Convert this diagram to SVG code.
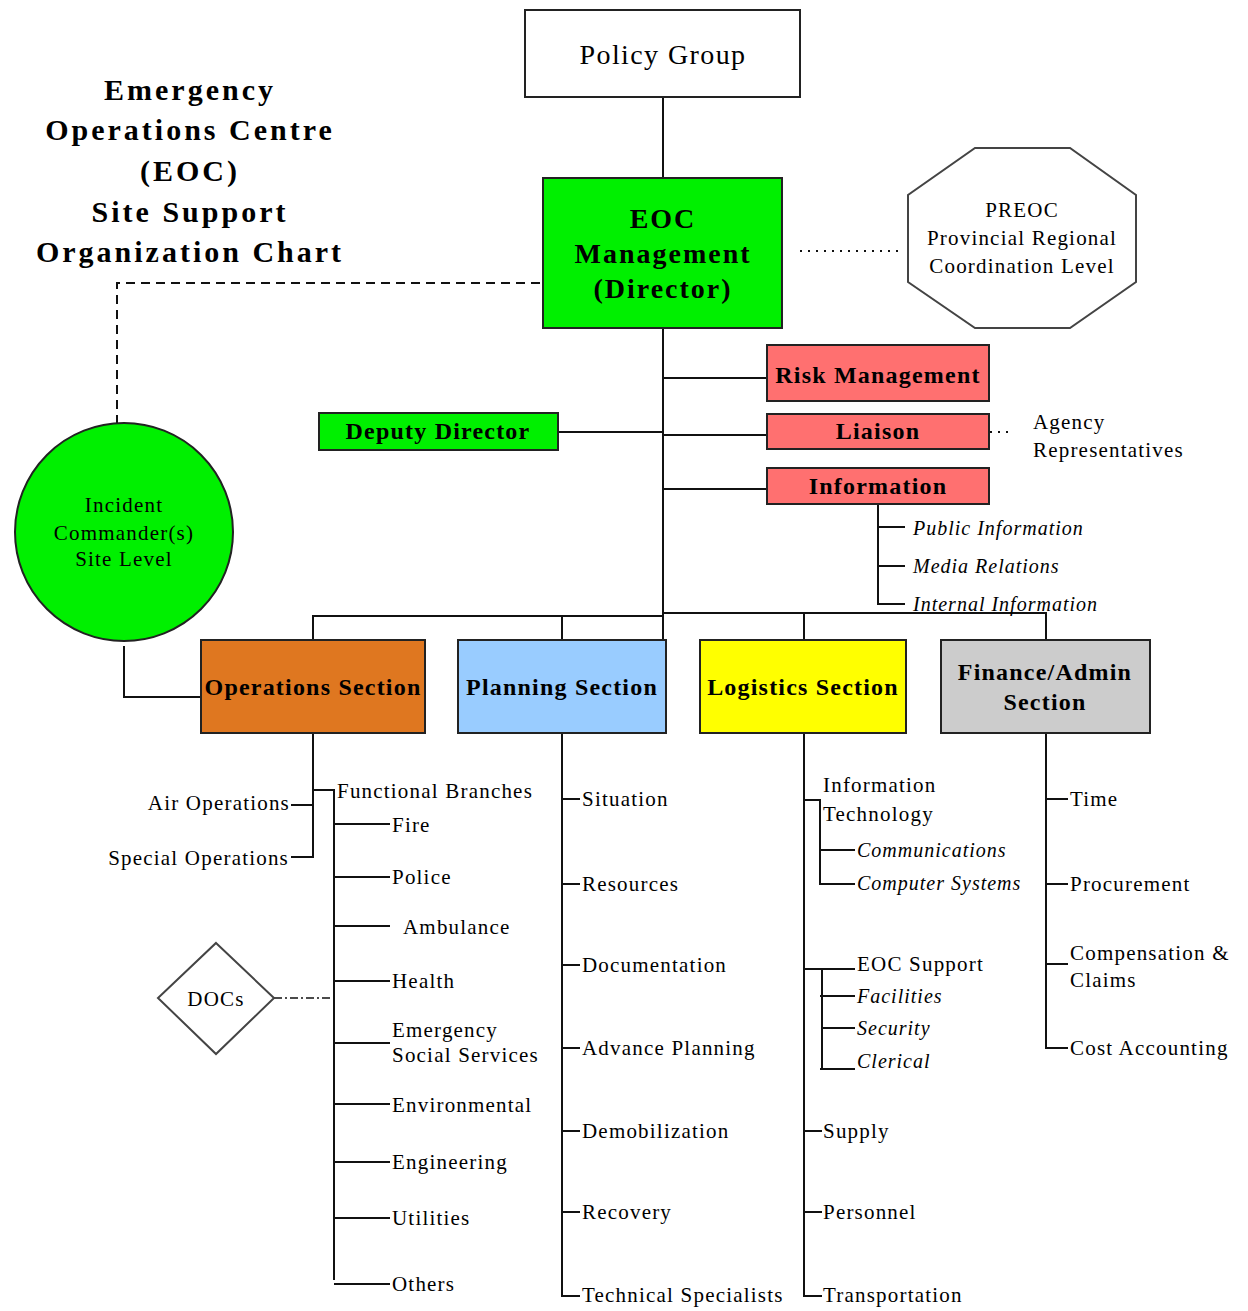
<svg xmlns="http://www.w3.org/2000/svg" width="1248" height="1311" viewBox="0 0 1248 1311">
<style>
text{font-family:"Liberation Serif","Times New Roman",serif;fill:#000}
.title{font-size:30px;font-weight:bold;letter-spacing:3px;text-anchor:middle}
.box{stroke:#222;stroke-width:2}
.hb{font-size:24px;font-weight:bold;text-anchor:middle;letter-spacing:1.2px}
.t{font-size:21px;letter-spacing:1.2px}
.tc{font-size:21px;text-anchor:middle;letter-spacing:1.2px}
.i{font-size:20px;font-style:italic;letter-spacing:1px}
.ln{stroke:#111;stroke-width:2;fill:none}
.dash{stroke:#111;stroke-width:2;fill:none;stroke-dasharray:9 6}
.dot{stroke:#111;stroke-width:2;fill:none;stroke-dasharray:2 6}
.dd{stroke:#111;stroke-width:1.5;fill:none;stroke-dasharray:8 3 2 3}
</style>
<rect width="1248" height="1311" fill="#fff"/>
<g id="title">
<text class="title" x="190" y="100">Emergency</text>
<text class="title" x="190" y="140">Operations Centre</text>
<text class="title" x="190" y="181">(EOC)</text>
<text class="title" x="190" y="222">Site Support</text>
<text class="title" x="190" y="262">Organization Chart</text>
</g>
<g id="connectors">
<line class="ln" x1="663" y1="97" x2="663" y2="178"/>
<line class="dot" x1="800" y1="251" x2="902" y2="251"/>
<path class="dash" d="M540 283 H117 V428"/>
<line class="ln" x1="663" y1="328" x2="663" y2="640"/>
<line class="ln" x1="663" y1="378" x2="767" y2="378"/>
<line class="ln" x1="663" y1="435" x2="767" y2="435"/>
<line class="ln" x1="663" y1="489" x2="767" y2="489"/>
<line class="ln" x1="558" y1="432" x2="663" y2="432"/>
<line class="dot" x1="990" y1="432" x2="1012" y2="432"/>
<path class="ln" d="M878 504 V604 H905 M878 527 H905 M878 566 H905"/>
<path class="ln" d="M313 640 V616 H663 M663 613 H1046 V640 M562 616 V640 M804 613 V640"/>
<path class="ln" d="M124 646 V697 H201"/>
<path class="ln" d="M313 733 V857 H291 M291 805 H313 M313 790 H334 V1280 M334 1284 H390 M334 824 H390 M334 877 H390 M334 926 H390 M334 981 H390 M333 1043 H390 M334 1104 H390 M333 1162 H390 M333 1218 H390"/>
<line class="dd" x1="274" y1="998" x2="334" y2="998"/>
<path class="ln" d="M562 733 V1296 H580 M562 799 H580 M562 884 H580 M562 965 H580 M561 1048 H580 M562 1131 H580 M562 1212 H580"/>
<path class="ln" d="M804 733 V1296 H822 M804 800 H820 V884 H855 M820 850 H855 M804 969 H855 M822 969 V1070 M820 1069 H855 M820 996 H855 M822 1028 H855 M804 1131 H822 M804 1212 H822"/>
<path class="ln" d="M1046 733 V1048 H1068 M1046 799 H1068 M1046 884 H1068 M1046 964 H1068"/>
</g>
<g id="policy-group">
<rect class="box" x="525" y="10" width="275" height="87" fill="#fff"/>
<text x="663" y="64" style="font-size:28px;text-anchor:middle;letter-spacing:1.4px">Policy Group</text>
</g>
<g id="eoc-management">
<rect class="box" x="543" y="178" width="239" height="150" fill="#00f000"/>
<text class="hb" x="663" y="228" style="font-size:28px;letter-spacing:2px">EOC</text>
<text class="hb" x="663" y="263" style="font-size:28px;letter-spacing:2px">Management</text>
<text class="hb" x="663" y="298" style="font-size:28px;letter-spacing:2px">(Director)</text>
</g>
<g id="preoc">
<polygon points="975,148 1070,148 1136,195 1136,282 1070,328 975,328 908,282 908,195" fill="#fff" stroke="#444" stroke-width="2"/>
<text class="tc" x="1022" y="217">PREOC</text>
<text class="tc" x="1022" y="245">Provincial Regional</text>
<text class="tc" x="1022" y="273">Coordination Level</text>
</g>
<g id="risk-management">
<rect class="box" x="767" y="345" width="222" height="56" fill="#ff7070"/>
<text class="hb" x="878" y="383">Risk Management</text>
</g>
<g id="liaison">
<rect class="box" x="767" y="414" width="222" height="35" fill="#ff7070"/>
<text class="hb" x="878" y="439">Liaison</text>
</g>
<g id="agency-representatives">
<text class="t" x="1033" y="429">Agency</text>
<text class="t" x="1033" y="457">Representatives</text>
</g>
<g id="information">
<rect class="box" x="767" y="468" width="222" height="36" fill="#ff7070"/>
<text class="hb" x="878" y="494">Information</text>
<text class="i" x="913" y="535">Public Information</text>
<text class="i" x="913" y="573">Media Relations</text>
<text class="i" x="913" y="611">Internal Information</text>
</g>
<g id="deputy-director">
<rect class="box" x="319" y="413" width="239" height="37" fill="#00f000"/>
<text class="hb" x="438" y="439">Deputy Director</text>
</g>
<g id="incident-commander">
<circle cx="124" cy="532" r="109" fill="#00f000" stroke="#222" stroke-width="2"/>
<text class="tc" x="124" y="512">Incident</text>
<text class="tc" x="124" y="540">Commander(s)</text>
<text class="tc" x="124" y="566">Site Level</text>
</g>
<g id="operations-section">
<rect class="box" x="201" y="640" width="224" height="93" fill="#df7720"/>
<text class="hb" x="313" y="695">Operations Section</text>
<text class="t" x="290" y="810" text-anchor="end">Air Operations</text>
<text class="t" x="289" y="865" text-anchor="end">Special Operations</text>
<text class="t" x="337" y="798">Functional Branches</text>
<text class="t" x="392" y="832">Fire</text>
<text class="t" x="392" y="884">Police</text>
<text class="t" x="403" y="934">Ambulance</text>
<text class="t" x="392" y="988">Health</text>
<text class="t" x="392" y="1037">Emergency</text>
<text class="t" x="392" y="1062">Social Services</text>
<text class="t" x="392" y="1112">Environmental</text>
<text class="t" x="392" y="1169">Engineering</text>
<text class="t" x="392" y="1225">Utilities</text>
<text class="t" x="392" y="1291">Others</text>
</g>
<g id="docs">
<polygon points="216,943 274,998 216,1054 158,998" fill="#fff" stroke="#444" stroke-width="2"/>
<text class="tc" x="216" y="1006">DOCs</text>
</g>
<g id="planning-section">
<rect class="box" x="458" y="640" width="208" height="93" fill="#99ccff"/>
<text class="hb" x="562" y="695">Planning Section</text>
<text class="t" x="582" y="806">Situation</text>
<text class="t" x="582" y="891">Resources</text>
<text class="t" x="582" y="972">Documentation</text>
<text class="t" x="582" y="1055">Advance Planning</text>
<text class="t" x="582" y="1138">Demobilization</text>
<text class="t" x="582" y="1219">Recovery</text>
<text class="t" x="582" y="1302">Technical Specialists</text>
</g>
<g id="logistics-section">
<rect class="box" x="700" y="640" width="206" height="93" fill="#ffff00"/>
<text class="hb" x="803" y="695">Logistics Section</text>
<text class="t" x="823" y="792">Information</text>
<text class="t" x="823" y="821">Technology</text>
<text class="i" x="857" y="857">Communications</text>
<text class="i" x="857" y="890">Computer Systems</text>
<text class="t" x="857" y="971">EOC Support</text>
<text class="i" x="857" y="1003">Facilities</text>
<text class="i" x="857" y="1035">Security</text>
<text class="i" x="857" y="1068">Clerical</text>
<text class="t" x="823" y="1138">Supply</text>
<text class="t" x="823" y="1219">Personnel</text>
<text class="t" x="823" y="1302">Transportation</text>
</g>
<g id="finance-admin-section">
<rect class="box" x="941" y="640" width="209" height="93" fill="#cccccc"/>
<text class="hb" x="1045" y="680">Finance/Admin</text>
<text class="hb" x="1045" y="710">Section</text>
<text class="t" x="1070" y="806">Time</text>
<text class="t" x="1070" y="891">Procurement</text>
<text class="t" x="1070" y="960">Compensation &amp;</text>
<text class="t" x="1070" y="987">Claims</text>
<text class="t" x="1070" y="1055">Cost Accounting</text>
</g>
</svg>
